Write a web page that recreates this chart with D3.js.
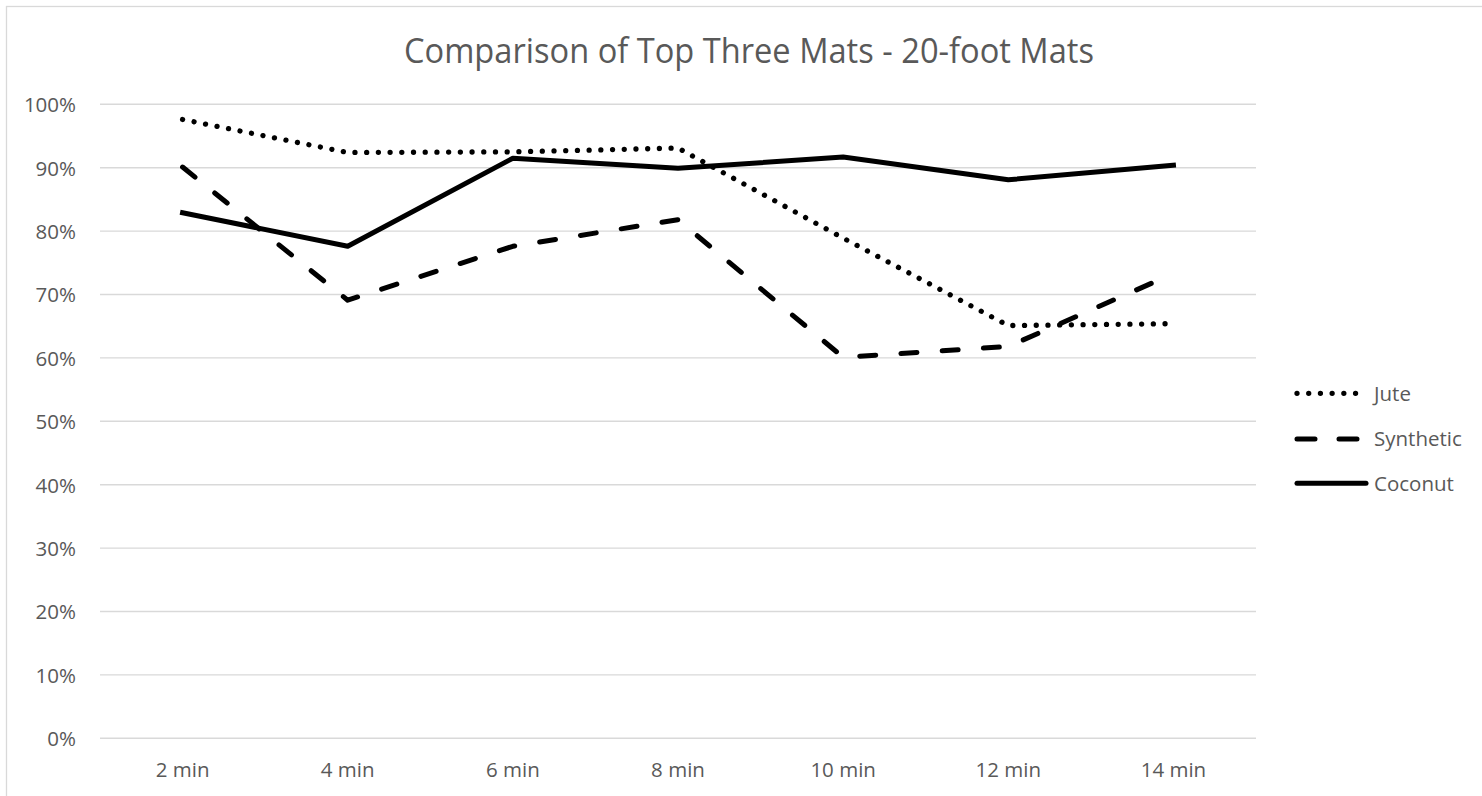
<!DOCTYPE html>
<html>
<head>
<meta charset="utf-8">
<script src="https://cdn.jsdelivr.net/npm/d3@7"></script>
<style>
  html, body { margin: 0; padding: 0; background: #ffffff; }
  svg { display: block; }
  text { font-family: "Open Sans", "Noto Sans", sans-serif; fill: #595959; }
</style>
</head>
<body>
<svg id="chart" width="1482" height="796"></svg>
<script>
// Share of performance per time interval for the three 20-foot mats
const categories = ["2 min", "4 min", "6 min", "8 min", "10 min", "12 min", "14 min"];
const jute      = [0.976, 0.924, 0.925, 0.931, 0.789, 0.651, 0.654];
const synthetic = [0.901, 0.691, 0.776, 0.818, 0.601, 0.618, 0.733];
const coconut   = [0.829, 0.776, 0.915, 0.899, 0.917, 0.881, 0.904];
const seriesNames = ["Jute", "Synthetic", "Coconut"];
const yTicks = [0, 0.1, 0.2, 0.3, 0.4, 0.5, 0.6, 0.7, 0.8, 0.9, 1.0];
const titleText = "Comparison of Top Three Mats - 20-foot Mats";

const series = [
  { name: seriesNames[0], values: jute,      dash: "0.01 11.7", width: 5.3 },
  { name: seriesNames[1], values: synthetic, dash: "16 25.3",   width: 5 },
  { name: seriesNames[2], values: coconut,   dash: null,        width: 5 }
];

const svg = d3.select("#chart");

// chart-area border
svg.append("rect")
  .attr("x", 6.5).attr("y", 6.5)
  .attr("width", 1520).attr("height", 820)
  .attr("fill", "none")
  .attr("stroke", "#d9d9d9")
  .attr("stroke-width", 1.3);

const plot = { left: 100, right: 1256, top: 104.3, bottom: 738.3 };

const x = d3.scaleBand()
  .domain(categories)
  .range([plot.left, plot.right]);

const y = d3.scaleLinear()
  .domain([0, 1])
  .range([plot.bottom, plot.top]);

// horizontal gridlines
svg.append("g")
  .selectAll("line")
  .data(yTicks)
  .join("line")
  .attr("x1", plot.left)
  .attr("x2", plot.right)
  .attr("y1", d => y(d))
  .attr("y2", d => y(d))
  .attr("stroke", "#d9d9d9")
  .attr("stroke-width", 1.4);

// y axis labels
const yAxis = d3.axisLeft(y)
  .tickValues(yTicks)
  .tickFormat(d3.format(".0%"))
  .tickSize(0)
  .tickPadding(24);

svg.append("g")
  .attr("transform", `translate(${plot.left},0)`)
  .call(yAxis)
  .call(g => g.select(".domain").remove())
  .call(g => g.selectAll("text")
    .attr("font-size", 20.5)
    .attr("font-family", null)
    .attr("fill", "#595959")
    .attr("dy", "0.36em"));

// x axis labels
const xAxis = d3.axisBottom(x)
  .tickSize(0)
  .tickPadding(0);

svg.append("g")
  .attr("transform", `translate(0,${plot.bottom})`)
  .call(xAxis)
  .call(g => g.select(".domain").remove())
  .call(g => g.selectAll("text")
    .attr("font-size", 20.5)
    .attr("font-family", null)
    .attr("fill", "#595959")
    .attr("y", 38.5)
    .attr("dy", 0));

// series lines
const line = d3.line()
  .x((d, i) => x(categories[i]) + x.bandwidth() / 2)
  .y(d => y(d));

svg.append("g")
  .selectAll("path")
  .data(series)
  .join("path")
  .attr("d", d => line(d.values))
  .attr("fill", "none")
  .attr("stroke", "#000000")
  .attr("stroke-width", d => d.width)
  .attr("stroke-linecap", d => d.dash ? "round" : "square")
  .attr("stroke-linejoin", "round")
  .attr("stroke-dasharray", d => d.dash);

// title
svg.append("text")
  .attr("x", 749)
  .attr("y", 62.7)
  .attr("text-anchor", "middle")
  .attr("font-size", 34)
  .attr("font-weight", 400)
  .attr("textLength", 690)
  .attr("lengthAdjust", "spacingAndGlyphs")
  .text(titleText);

// legend
const legendRowY = [393.3, 439, 483.3];
const legend = svg.append("g")
  .selectAll("g")
  .data(series)
  .join("g")
  .attr("transform", (d, i) => `translate(1297,${legendRowY[i]})`);

legend.append("line")
  .attr("x1", 0)
  .attr("x2", d => d.dash ? 66 : 69)
  .attr("y1", 0).attr("y2", 0)
  .attr("stroke", "#000000")
  .attr("stroke-width", d => d.width)
  .attr("stroke-linecap", "round")
  .attr("stroke-dasharray", d => d.name === "Synthetic" ? "18 24" : d.dash);

legend.append("text")
  .attr("x", 77)
  .attr("y", 0)
  .attr("dy", "0.36em")
  .attr("font-size", 20.5)
  .text(d => d.name);
</script>
</body>
</html>
